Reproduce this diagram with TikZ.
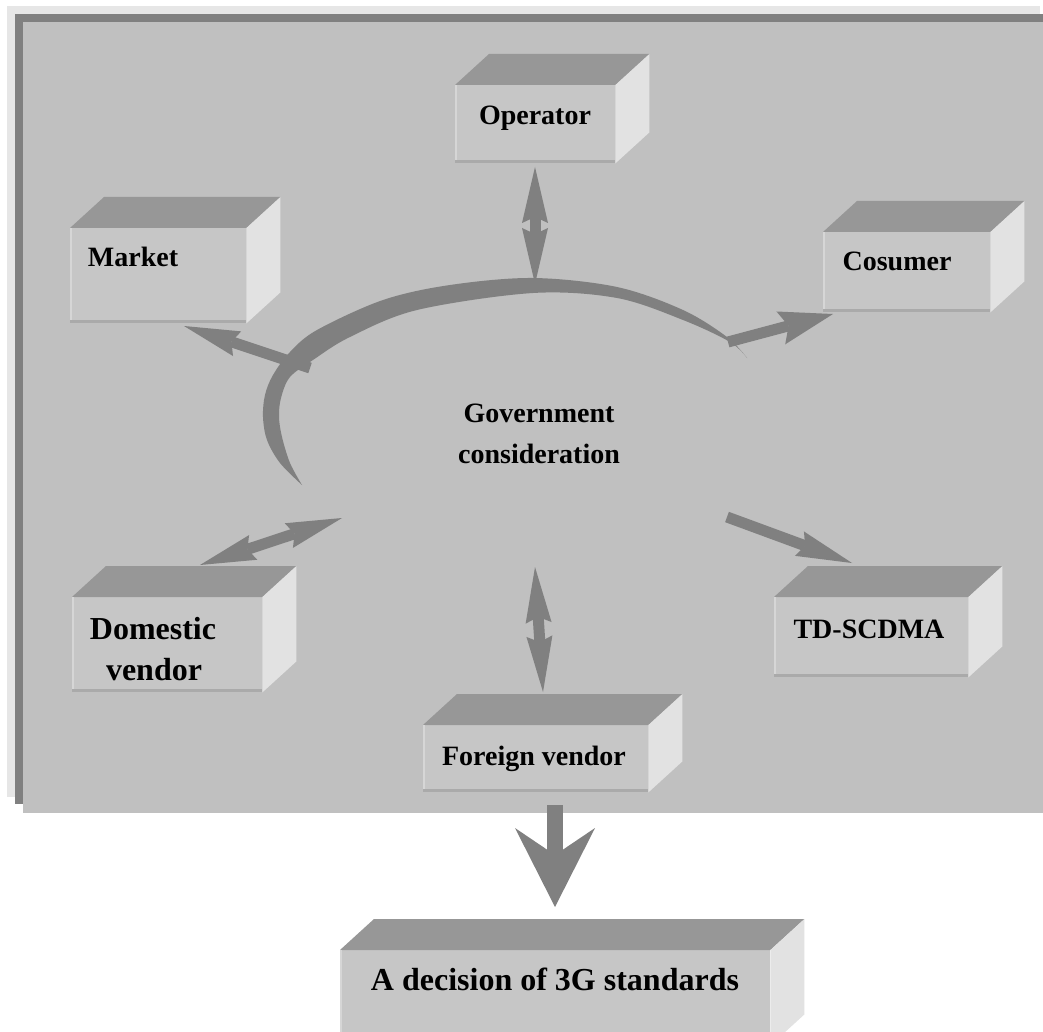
\documentclass[tikz,border=0pt]{standalone}
\usepackage{fontspec}
\setmainfont{Liberation Serif}
\usetikzlibrary{arrows.meta,calc}
\definecolor{bgmain}{HTML}{C0C0C0}
\definecolor{bglight}{HTML}{E6E6E6}
\definecolor{bgdark}{HTML}{808080}
\definecolor{facefront}{HTML}{C6C6C6}
\definecolor{facetop}{HTML}{979797}
\definecolor{faceside}{HTML}{E2E2E2}
\definecolor{edgelight}{HTML}{D6D6D6}
\definecolor{edgedark}{HTML}{AAAAAA}
\definecolor{arrowgray}{HTML}{808080}
\tikzset{
  frontface/.style={fill=facefront, inner sep=0pt, anchor=north west},
  lbl/.style={font=\fontsize{28}{34}\selectfont\bfseries, inner sep=0pt, anchor=base},
  lblbig/.style={font=\fontsize{32}{40}\selectfont\bfseries, inner sep=0pt, anchor=base},
  fatarrow/.style={draw=arrowgray, line width=11pt},
  bigarrow/.style={draw=arrowgray, line width=16pt},
  Fat/.tip={Stealth[length=56pt,width=26pt,inset=6pt,line width=0pt]},
  FatW/.tip={Stealth[length=54pt,width=34pt,inset=8pt,line width=0pt]},
  Big/.tip={Stealth[length=79pt,width=80pt,inset=27pt,line width=0pt]},
}
% #1 name, #2 x0, #3 y0, #4 x1, #5 y1 (front face)
\newcommand\cubebox[5]{%
  \node[frontface, minimum width={(#4-#2)*1pt}, minimum height={(#5-#3)*1pt}] (#1) at (#2,#3) {};
  \fill[facetop] (#1.north west) -- ++(34,-31) -- ($(#1.north east)+(34,-31)$) -- (#1.north east) -- cycle;
  \fill[faceside] (#1.north east) -- ++(34,-31) -- ($(#1.south east)+(34,-31)$) -- (#1.south east) -- cycle;
  \draw[line width=2pt, edgelight] ([xshift=1pt]#1.south west) -- ([xshift=1pt]#1.north west);
  \draw[line width=3pt, edgedark] ([yshift=1.5pt]#1.south west) -- ([yshift=1.5pt]#1.south east);
}
\begin{document}
\begin{tikzpicture}[x=1pt,y=-1pt]
\useasboundingbox (0,0) rectangle (1043,1032);
\clip (0,0) rectangle (1043,1032);
\fill[white] (0,0) rectangle (1043,1032);
% background frame
\fill[bglight] (7,6) rectangle (1040,797);
\fill[bgdark] (15,14) rectangle (1060,804);
\fill[bgmain] (23,22) rectangle (1060,813);

% boxes
\cubebox{op}{455}{85}{615}{163}
\cubebox{mk}{70}{228}{246}{323}
\cubebox{cs}{823}{232}{990}{312}
\cubebox{dv}{72}{597}{262}{692}
\cubebox{td}{774}{597}{968}{677}
\cubebox{fv}{423}{725}{648}{792}
\cubebox{dec}{340}{950}{770}{1045}

% crescent arc
\fill[arrowgray] plot[smooth, tension=0.55] coordinates {(747,358) (727,337) (683,310) (617,287) (533,278) (450,285) (383,300) (317,330) (290,352) (273,375) (265,395) (263,417) (267,440) (280,463) (302,485)}
  -- plot[smooth, tension=0.55] coordinates {(302,485) (290,463) (282,437) (279,417) (281,398) (290,377) (313,360) (350,337) (417,310) (533,293) (617,298) (683,320) (730,342) (747,358)} -- cycle;

% connector end points
\coordinate (opA) at (535,167);
\coordinate (arcTop) at (535,284);
\coordinate (mkTail) at (310,368);
\coordinate (mkTip) at (184,326);
\coordinate (csTail) at (728,342);
\coordinate (csTip) at (833,314);
\coordinate (dvA) at (200,565);
\coordinate (ctrL) at (342,518);
\coordinate (ctrB) at (535,567);
\coordinate (fvA) at (543,692);
\coordinate (tdTail) at (727,517);
\coordinate (tdTip) at (852,563);
\coordinate (fvB) at (555,805);
\coordinate (decA) at (555,907);

% arrows
\draw[fatarrow, {Fat}-{Fat}] (opA) -- (arcTop);
\draw[fatarrow, -{Fat}] (mkTail) -- (mkTip);
\draw[fatarrow, -{FatW}] (csTail) -- (csTip);
\draw[fatarrow, {Fat}-{Fat}] (dvA) -- (ctrL);
\draw[fatarrow, {Fat}-{Fat}] (ctrB) -- (fvA);
\draw[fatarrow, -{Fat}] (tdTail) -- (tdTip);
\draw[bigarrow, -{Big}] (fvB) -- (decA);

% labels
\node[lbl] (opT) at (535,125) {Operator};
\node[lbl] (mkT) at (133,266) {Market};
\node[lbl] (csT) at (897,270) {Cosumer};
\node[lblbig] (dvT1) at (153,639) {Domestic};
\node[lblbig] (dvT2) at (154,680) {vendor};
\node[lbl] (govT1) at (539,422) {Government};
\node[lbl] (govT2) at (539,463) {consideration};
\node[lbl] (tdT) at (869,638) {TD-SCDMA};
\node[lbl] (fvT) at (534,765) {Foreign vendor};
\node[lblbig] (decT) at (555,990) {A decision of 3G standards};
\end{tikzpicture}
\end{document}
